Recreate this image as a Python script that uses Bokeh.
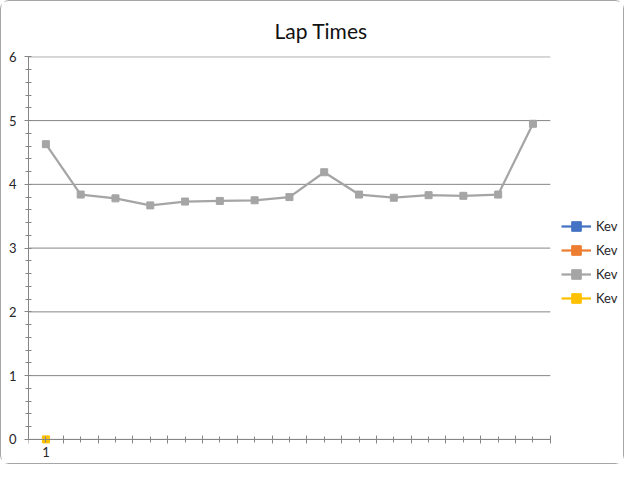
from bokeh.plotting import figure
from bokeh.models import FixedTicker, Legend, LegendItem, Range1d, LinearAxis
from bokeh.embed import file_html
from bokeh.resources import INLINE

# ---- data ----
laps = list(range(1, 16))
x_labels = ["1"] + [""] * 14
kev_blue = [float("nan")]
kev_orange = [float("nan")]
kev_gray = [4.63, 3.84, 3.78, 3.67, 3.73, 3.74, 3.75, 3.80, 4.19, 3.84, 3.79, 3.83, 3.82, 3.84, 4.95]
kev_yellow = [0]
series_names = ["Kev", "Kev", "Kev", "Kev"]
colors = ["#4472C4", "#ED7D31", "#A5A5A5", "#FFC000"]
y_ticks = [0, 1, 2, 3, 4, 5, 6]

FONT = "Lato"
TXT = "#262626"
AX = "#868686"

x_lo, x_hi = laps[0] - 0.5, laps[-1] + 0.5
# frame continues to the right so the legend (drawn inside the frame) is not clipped
p = figure(width=624, height=464, output_backend="svg", toolbar_location=None,
           x_range=Range1d(x_lo, x_hi + 2.16), y_range=Range1d(-0.08, 6.005),
           min_border_left=27, min_border_right=0, min_border_top=55, min_border_bottom=21)
p.outline_line_color = None
p.background_fill_color = "white"
p.border_fill_color = "white"
p.styles = {"border": "1px solid #a6a6a6", "border-radius": "9px"}

p.title.text = "Lap Times"
p.title.align = "left"
p.title.offset = 246
p.title.standoff = 28
p.title.text_font = FONT
p.title.text_font_size = "21px"
p.title.text_font_style = "normal"
p.title.text_color = "#111111"

# horizontal gridlines limited to the plot area
p.xgrid.grid_line_color = None
p.ygrid.grid_line_color = None
p.segment(x0=[x_lo] * len(y_ticks), y0=y_ticks, x1=[x_hi] * len(y_ticks), y1=y_ticks,
          line_color=AX, line_width=1)

# x axis (ticks + line, fixed at y = 0)
xa = p.xaxis[0]
xa.fixed_location = 0
xa.bounds = (x_lo, x_hi)
xa.ticker = FixedTicker(ticks=laps, minor_ticks=[x_lo + i for i in range(len(laps) + 1)])
xa.major_label_overrides = {t: "" for t in laps}
xa.major_label_text_font_size = "13px"
xa.major_label_standoff = 0
xa.axis_line_color = AX
xa.major_tick_line_color = AX
xa.minor_tick_line_color = AX
xa.major_tick_in = 3
xa.major_tick_out = 3
xa.minor_tick_in = 4
xa.minor_tick_out = 4

# x axis labels
xl = LinearAxis(ticker=FixedTicker(ticks=laps, minor_ticks=[]), bounds=(x_lo, x_hi),
                major_label_overrides={laps[i]: x_labels[i] for i in range(len(laps))},
                axis_line_color=None, major_tick_line_color=None, minor_tick_line_color=None,
                major_tick_in=0, major_tick_out=0, major_label_standoff=2,
                major_label_text_font=FONT, major_label_text_font_size="13px",
                major_label_text_color=TXT)
p.add_layout(xl, "below")

# y axis
ya = p.yaxis[0]
ya.bounds = (0, 6)
ya.ticker = FixedTicker(ticks=y_ticks, minor_ticks=[i / 5 for i in range(0, 31)])
ya.axis_line_color = AX
ya.major_tick_line_color = AX
ya.minor_tick_line_color = AX
ya.major_tick_in = 0
ya.major_tick_out = 4
ya.minor_tick_in = 3
ya.minor_tick_out = 3
ya.major_label_text_font = FONT
ya.major_label_text_font_size = "13px"
ya.major_label_text_color = TXT
ya.major_label_standoff = 8

items = []
data = [([laps[0]], kev_blue), ([laps[0]], kev_orange), (laps, kev_gray), ([laps[0]], kev_yellow)]
for (xs, ys), c, name in zip(data, colors, series_names):
    l = p.line(xs, ys, line_color=c, line_width=2.25)
    s = p.scatter(xs, ys, marker="square", size=7, fill_color=c, line_color=c)
    items.append(LegendItem(label=name, renderers=[l, s]))

legend = Legend(items=items, location=(533, 134), orientation="vertical",
                padding=0, margin=0, spacing=0, glyph_width=30, glyph_height=24,
                label_height=24, label_standoff=5, border_line_color=None,
                background_fill_alpha=0, label_text_font=FONT,
                label_text_font_size="13px", label_text_color=TXT)
p.add_layout(legend, "center")

open("out.html", "w").write(file_html(p, INLINE))
